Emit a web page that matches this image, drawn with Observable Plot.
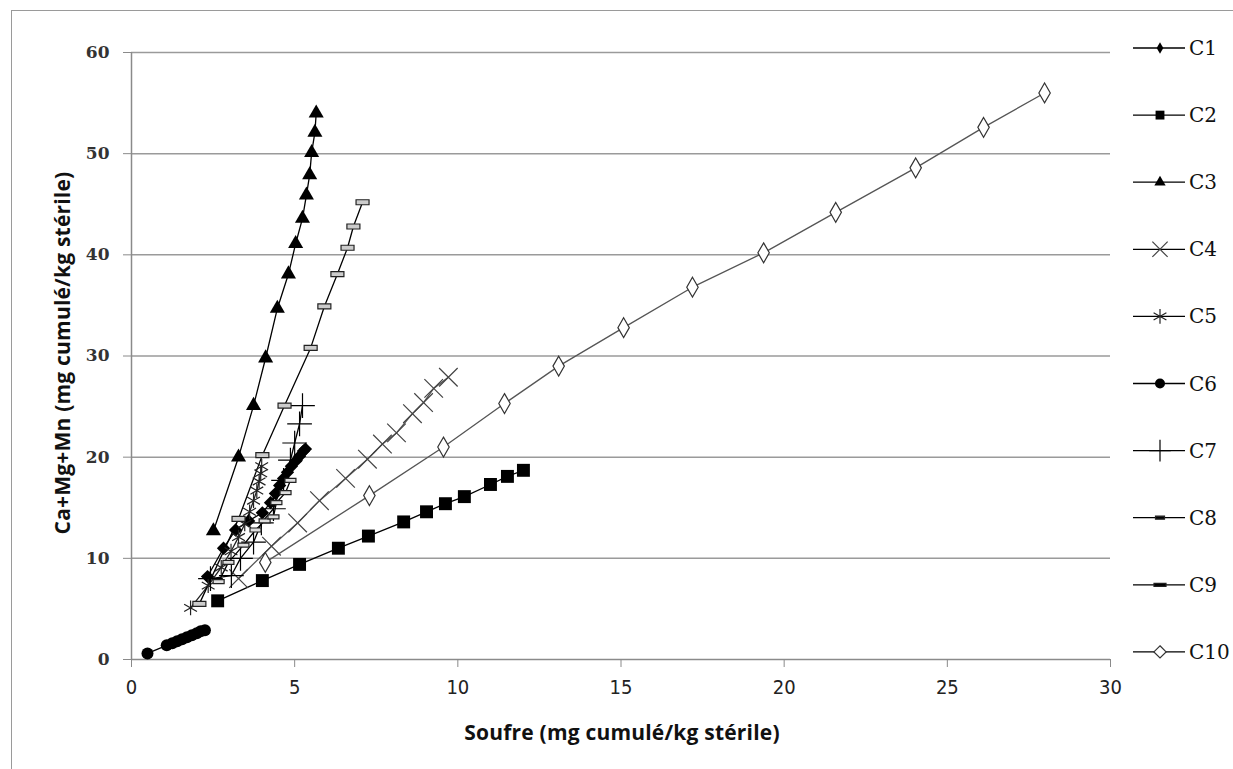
<!DOCTYPE html>
<html>
<head>
<meta charset="utf-8">
<script src="https://cdn.jsdelivr.net/npm/d3@7"></script>
<script src="https://cdn.jsdelivr.net/npm/@observablehq/plot@0.6"></script>
<style>
  html, body { margin: 0; padding: 0; background: #fff; }
  #wrap { position: relative; width: 1233px; height: 769px; overflow: hidden; background: #fff; }
  #frame { position: absolute; left: 11px; top: 10px; width: 1240px; height: 780px; border: 1.5px solid #9a9a9a; box-sizing: border-box; }
  #chart { position: absolute; left: 0; top: 0; }
  #legend { position: absolute; left: 0; top: 0; }
  .title { position: absolute; font-family: "Open Sans", sans-serif; font-weight: 700; font-size: 21px; letter-spacing: 0.2px; color: #111; white-space: nowrap; }
  #xtitle { left: 622px; top: 718px; transform: translateX(-50%); }
  #ytitle { left: 62px; top: 353px; transform: translate(-50%, -50%) rotate(-90deg); }
</style>
</head>
<body>
<div id="wrap">
  <div id="frame"></div>
  <div id="chart"></div>
  <svg id="legend" width="1233" height="769"></svg>
  <div class="title" id="xtitle">Soufre (mg cumulé/kg stérile)</div>
  <div class="title" id="ytitle">Ca+Mg+Mn (mg cumulé/kg stérile)</div>
</div>
<script>
// ---------- data ----------
const seriesNames = ["C1","C2","C3","C4","C5","C6","C7","C8","C9","C10"];
const xTicks = [0,5,10,15,20,25,30];
const yTicks = [0,10,20,30,40,50,60];

const c1_x = [2.33,2.82,3.19,3.59,4.01,4.26,4.41,4.54,4.66,4.78,4.90,5.03,5.15,5.27,5.33];
const c1_y = [8.2,11.0,12.8,13.7,14.5,15.5,16.4,17.2,17.9,18.5,19.1,19.6,20.1,20.6,20.8];

const c2_x = [2.64,4.01,5.15,6.34,7.26,8.34,9.04,9.62,10.2,11.0,11.52,12.01];
const c2_y = [5.8,7.8,9.4,11.0,12.2,13.6,14.6,15.4,16.1,17.3,18.1,18.7];

const c3_x = [2.51,3.28,3.74,4.11,4.47,4.81,5.03,5.24,5.36,5.46,5.52,5.62,5.66];
const c3_y = [12.7,20.0,25.1,29.8,34.7,38.1,41.1,43.6,45.9,47.9,50.1,52.1,54.0];

const c4_x = [3.28,4.29,5.09,5.76,6.56,7.23,7.69,8.12,8.61,8.95,9.26,9.71];
const c4_y = [8.0,11.2,13.5,15.7,17.9,19.8,21.3,22.4,24.3,25.4,26.8,27.9];

const c5_x = [1.81,2.35,2.75,3.05,3.28,3.47,3.62,3.74,3.84,3.91,3.96,3.99];
const c5_y = [5.1,7.3,9.1,10.7,12.1,13.4,14.6,15.7,16.7,17.6,18.4,19.1];

const c6_x = [0.49,1.08,1.25,1.40,1.55,1.70,1.85,2.00,2.12,2.25];
const c6_y = [0.6,1.4,1.6,1.8,2.0,2.2,2.4,2.6,2.8,2.9];

const c7_x = [2.42,3.06,3.34,3.74,3.98,4.35,4.66,4.87,5.00,5.15,5.24];
const c7_y = [8.0,8.3,10.0,11.6,13.5,14.9,17.7,19.7,21.4,23.3,25.1];

const c8_x = [2.67,2.97,3.43,3.80,4.08,4.35,4.44,4.72,4.87];
const c8_y = [7.7,9.6,11.3,12.8,13.7,14.1,15.5,16.5,17.7];

const c9_x = [2.08,3.28,4.01,4.69,5.49,5.91,6.31,6.62,6.80,7.08];
const c9_y = [5.5,13.9,20.2,25.1,30.8,34.9,38.1,40.7,42.8,45.2];

const c10_x = [4.10,7.29,9.56,11.43,13.09,15.08,17.19,19.37,21.58,24.03,26.11,27.98];
const c10_y = [9.6,16.2,21.0,25.3,29.0,32.8,36.8,40.2,44.2,48.6,52.6,56.0];

// ---------- build table ----------
const xs = [c1_x,c2_x,c3_x,c4_x,c5_x,c6_x,c7_x,c8_x,c9_x,c10_x];
const ys = [c1_y,c2_y,c3_y,c4_y,c5_y,c6_y,c7_y,c8_y,c9_y,c10_y];
const data = seriesNames.flatMap((s, i) => xs[i].map((x, j) => ({series: s, x, y: ys[i][j]})));
const of = s => data.filter(d => d.series === s);

// custom dash marker (C8, C9)
const dashSym = (w, h) => ({ draw(ctx) { ctx.moveTo(-w/2, -h/2); ctx.lineTo(w/2, -h/2); ctx.lineTo(w/2, h/2); ctx.lineTo(-w/2, h/2); ctx.closePath(); } });
const dash8 = dashSym(11, 4);
const dash9 = dashSym(13, 5);

const style = {
  C1: {line: "#000", symbol: "diamond2", fill: "#000", stroke: "none", r: 6},
  C2: {line: "#000", symbol: "square", fill: "#000", stroke: "none", r: 7.3},
  C3: {line: "#000", symbol: "triangle", fill: "#000", stroke: "none", r: 5.6},
  C4: {line: "#555", symbol: "times", fill: "none", stroke: "#444", r: 8.5},
  C5: {line: "#222", symbol: "asterisk", fill: "none", stroke: "#222", r: 7},
  C6: {line: "#000", symbol: "circle", fill: "#000", stroke: "none", r: 6},
  C7: {line: "#000", symbol: "plus", fill: "none", stroke: "#000", r: 8},
  C8: {line: "#000", symbol: dash8, fill: "#ddd", stroke: "#222", r: 5},
  C9: {line: "#000", symbol: dash9, fill: "#ccc", stroke: "#222", r: 5},
  C10:{line: "#555", symbol: "diamond", fill: "#fff", stroke: "#333", r: 6}
};

const marks = [
  Plot.gridY(yTicks.filter(t => t > 0), {stroke: "#9a9a9a", strokeOpacity: 1, strokeWidth: 1.5}),
  Plot.ruleY([0], {stroke: "#8a8a8a", strokeWidth: 1.5}),
  Plot.ruleX([0], {stroke: "#8a8a8a", strokeWidth: 1.5}),
  Plot.axisY({ticks: yTicks, tickSize: 8, tickPadding: 14, stroke: "#8a8a8a", label: null,
    fontFamily: "DejaVu Serif, serif", fontSize: 17, fontWeight: "bold", fill: "#333", tickFormat: d => d}),
  Plot.axisX({ticks: xTicks, tickSize: 8, tickPadding: 12, stroke: "#8a8a8a", label: null,
    fontFamily: "DejaVu Sans Condensed, DejaVu Sans, sans-serif", fontSize: 20, fill: "#222", tickFormat: d => d})
];
for (const s of seriesNames) {
  const st = style[s];
  marks.push(Plot.line(of(s), {x: "x", y: "y", stroke: st.line, strokeWidth: 1.3}));
}
for (const s of seriesNames) {
  const st = style[s];
  marks.push(Plot.dot(of(s), {x: "x", y: "y", symbol: () => st.symbol, r: st.r, fill: st.fill, stroke: st.stroke, strokeWidth: 1.2}));
}

const chart = Plot.plot({
  width: 1233, height: 769,
  marginLeft: 131, marginRight: 123, marginTop: 52, marginBottom: 110,
  x: {domain: [0, 30]},
  y: {domain: [0, 60]},
  symbol: {type: "identity"},
  style: {background: "transparent", overflow: "visible"},
  marks
});
document.getElementById("chart").appendChild(chart);

// ---------- legend ----------
const lg = d3.select("#legend");
const symMap = {diamond2: d3.symbolDiamond, square: d3.symbolSquare, triangle: d3.symbolTriangle, times: d3.symbolTimes,
  asterisk: d3.symbolAsterisk, circle: d3.symbolCircle, plus: d3.symbolPlus, diamond: d3.symbolDiamond2};
const legendSize = {C1: 3.5, C2: 5, C3: 4.2, C4: 7, C5: 7, C6: 5, C7: 7, C8: 5, C9: 5, C10: 5.5};
seriesNames.forEach((s, i) => {
  const st = style[s];
  const y = 48 + i * 67.1;
  const g = lg.append("g");
  g.append("line").attr("x1", 1133).attr("x2", 1185).attr("y1", y).attr("y2", y).attr("stroke", "#000").attr("stroke-width", 1.3);
  const t = typeof st.symbol === "string" ? symMap[st.symbol] : (s === "C8" ? dashSym(9, 3) : dashSym(12, 3));
  const r = legendSize[s];
  g.append("path").attr("d", d3.symbol(t, Math.PI * r * r)()).attr("transform", `translate(1160,${y})`)
    .attr("fill", s === "C8" || s === "C9" ? "#000" : st.fill).attr("stroke", st.stroke === "none" ? "none" : st.stroke).attr("stroke-width", 1.2);
  g.append("text").attr("x", 1189).attr("y", y).attr("dy", "0.35em").text(s)
    .attr("font-family", "DejaVu Serif, serif").attr("font-size", 20).attr("fill", "#111");
});
</script>
</body>
</html>
